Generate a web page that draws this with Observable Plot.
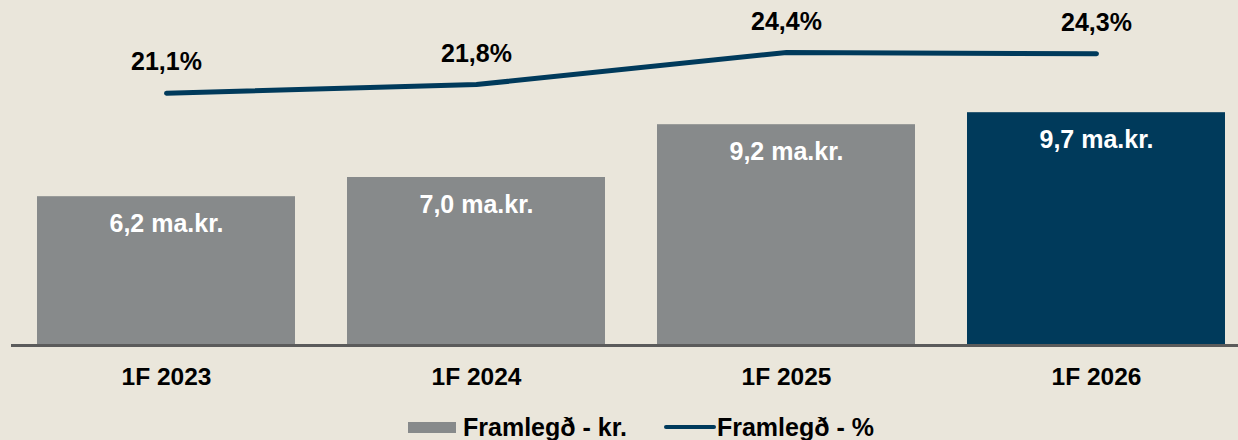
<!DOCTYPE html>
<html><head><meta charset="utf-8">
<script src="https://cdn.jsdelivr.net/npm/d3@7"></script>
<script src="https://cdn.jsdelivr.net/npm/@observablehq/plot@0.6"></script>
<style>
html,body{margin:0;padding:0;background:#EAE6DB;}
body{width:1238px;height:440px;position:relative;overflow:hidden;font-family:"Liberation Sans",Arial,sans-serif;}
#legend{position:absolute;left:408px;top:413px;display:flex;align-items:center;font-weight:bold;font-size:25px;line-height:28px;color:#000;white-space:nowrap;}
.sw-bar{width:48px;height:11px;background:#878A8B;margin-right:7px;}
.sw-line{width:52px;height:4px;background:#003A5B;border-radius:2px;margin-left:37px;margin-right:1px;}
</style></head>
<body>
<div id="chart"></div>
<div id="legend"><span class="sw-bar"></span><span>Framlegð - kr.</span><span class="sw-line"></span><span>Framlegð - %</span></div>
<script>
// Data
const periods = ["1F 2023", "1F 2024", "1F 2025", "1F 2026"];
const marginBn = [6.2, 7.0, 9.2, 9.7];          // Framlegð - kr. (ma.kr.)
const marginPct = [21.1, 21.8, 24.4, 24.3];     // Framlegð - %
const highlight = [false, false, false, true];

const gray = "#878A8B";
const navy = "#003A5B";

const rows = periods.map((p, i) => ({
  period: p,
  value: marginBn[i],
  pct: marginPct[i],
  hi: highlight[i],
  barLabel: marginBn[i].toFixed(1).replace(".", ",") + " ma.kr.",
  pctLabel: marginPct[i].toFixed(1).replace(".", ",") + "%"
}));

// secondary axis: percentage mapped onto the bar value axis
const yMax = 14.375;
const pctAxis = d3.scaleLinear().domain([0.64, 28.62]).range([0, yMax]);

const font = "'Liberation Sans', Arial, sans-serif";

const chart = Plot.plot({
  width: 1238,
  height: 400,
  marginLeft: 11,
  marginRight: 0,
  marginTop: 0,
  marginBottom: 55,
  style: {background: "transparent", fontFamily: font, color: "#000", overflow: "visible"},
  x: {domain: periods, range: [11, 1251], paddingInner: 0.168, paddingOuter: 0.084, label: null},
  y: {domain: [0, yMax], range: [345, 0], axis: null},
  marks: [
    Plot.barY(rows, {x: "period", y: "value", fill: d => d.hi ? navy : gray}),
    Plot.ruleY([0], {stroke: "#5B5B5B", strokeWidth: 3}),
    Plot.text(rows, {x: "period", y: "value", text: "barLabel", dy: 27, fill: "#fff",
      fontSize: 25, fontWeight: "bold", lineAnchor: "middle"}),
    Plot.line(rows, {x: "period", y: d => pctAxis(d.pct), stroke: navy, strokeWidth: 5,
      strokeLinecap: "round", strokeLinejoin: "round", curve: "linear"}),
    Plot.text(rows, {x: "period", y: d => pctAxis(d.pct), text: "pctLabel", dy: -31, fill: "#000",
      fontSize: 25, fontWeight: "bold", lineAnchor: "middle"}),
    Plot.axisX({tickSize: 0, tickPadding: 22, fontSize: 24.5, fontWeight: "bold", fill: "#000", label: null})
  ]
});
document.getElementById("chart").appendChild(chart);
</script>
</body></html>
